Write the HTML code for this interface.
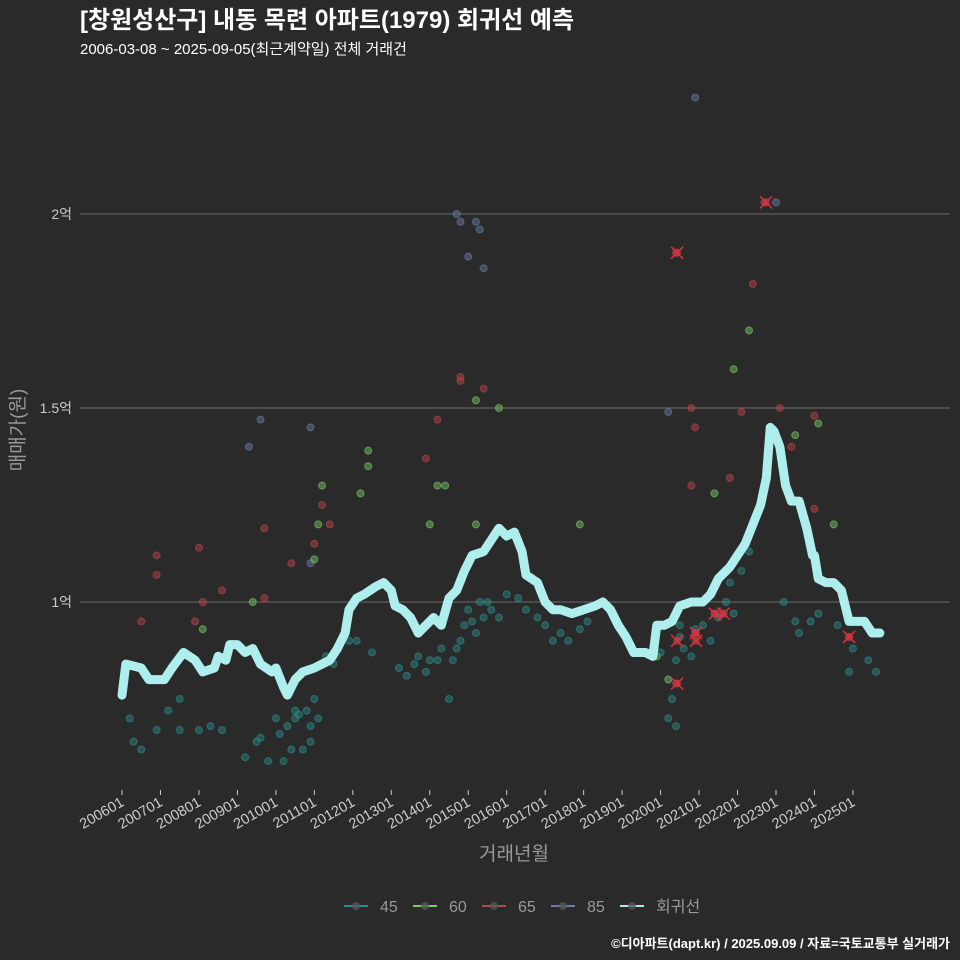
<!DOCTYPE html>
<html><head><meta charset="utf-8">
<style>
html,body{margin:0;padding:0;background:#2b2a2b;overflow:hidden;width:960px;height:960px;}
svg{display:block;}
svg text{font-family:"Liberation Sans","Noto Sans CJK KR",sans-serif;}
</style></head>
<body>
<svg id="c" width="960" height="960" viewBox="0 0 960 960" xmlns="http://www.w3.org/2000/svg">
<rect width="960" height="960" fill="#2b2a2b"/>
<text x="80" y="28" font-size="24" font-weight="bold" fill="#ffffff">[창원성산구] 내동 목련 아파트(1979) 회귀선 예측</text>
<text x="80" y="54" font-size="15" fill="#ffffff">2006-03-08 ~ 2025-09-05(최근계약일) 전체 거래건</text>
<g id="grid"></g>
<g id="pts"></g>
<g id="reg"></g>
<g id="xmarks"></g>
<g id="xaxis"></g>
<text x="514" y="860" font-size="19" fill="#999" text-anchor="middle">거래년월</text>
<text transform="translate(24,430) rotate(-90)" font-size="19" fill="#999" text-anchor="middle">매매가(원)</text>
<g id="legend"></g>
<text x="950" y="948" font-size="13" font-weight="bold" fill="#ffffff" text-anchor="end">©디아파트(dapt.kr) / 2025.09.09 / 자료=국토교통부 실거래가</text>
</svg>
<script>
const yTicks=[1,1.5,2];
const yTickLabels=["1억","1.5억","2억"];
const xTickYears=[2006,2007,2008,2009,2010,2011,2012,2013,2014,2015,2016,2017,2018,2019,2020,2021,2022,2023,2024,2025];
const xTickLabels=["200601","200701","200801","200901","201001","201101","201201","201301","201401","201501","201601","201701","201801","201901","202001","202101","202201","202301","202401","202501"];
const regT=[2006.0,2006.1,2006.5,2006.7,2007.1,2007.3,2007.6,2007.9,2008.1,2008.4,2008.5,2008.7,2008.8,2009.0,2009.2,2009.4,2009.6,2009.9,2010.0,2010.2,2010.3,2010.5,2010.7,2011.0,2011.2,2011.4,2011.6,2011.8,2011.9,2012.1,2012.3,2012.6,2012.8,2013.0,2013.1,2013.3,2013.5,2013.7,2013.9,2014.1,2014.3,2014.5,2014.7,2014.9,2015.1,2015.4,2015.6,2015.8,2016.0,2016.2,2016.4,2016.5,2016.8,2017.0,2017.2,2017.4,2017.7,2018.0,2018.3,2018.5,2018.7,2018.9,2019.1,2019.3,2019.6,2019.8,2019.9,2020.1,2020.3,2020.5,2020.8,2021.1,2021.3,2021.5,2021.8,2022.0,2022.2,2022.4,2022.6,2022.75,2022.85,2022.95,2023.1,2023.25,2023.4,2023.6,2023.8,2023.95,2024.0,2024.1,2024.3,2024.5,2024.7,2024.9,2025.1,2025.3,2025.5,2025.7];
const regV=[0.76,0.84,0.83,0.80,0.80,0.83,0.87,0.85,0.82,0.83,0.86,0.85,0.89,0.89,0.87,0.88,0.84,0.82,0.83,0.78,0.76,0.80,0.82,0.83,0.84,0.85,0.88,0.92,0.98,1.01,1.02,1.04,1.05,1.03,0.99,0.98,0.96,0.92,0.94,0.96,0.94,1.01,1.03,1.08,1.12,1.13,1.16,1.19,1.17,1.18,1.13,1.07,1.05,1.00,0.98,0.98,0.97,0.98,0.99,1.00,0.98,0.94,0.91,0.87,0.87,0.86,0.94,0.94,0.95,0.99,1.00,1.00,1.02,1.06,1.09,1.12,1.15,1.20,1.25,1.32,1.45,1.44,1.40,1.30,1.26,1.26,1.19,1.12,1.12,1.06,1.05,1.05,1.03,0.95,0.95,0.95,0.92,0.92];
const s45T=[2006.2,2006.3,2006.5,2006.9,2007.2,2007.5,2007.5,2008.0,2008.3,2008.6,2009.2,2009.5,2009.6,2009.8,2010.0,2010.1,2010.2,2010.3,2010.4,2010.5,2010.5,2010.6,2010.7,2010.8,2010.9,2010.9,2011.0,2011.1,2011.3,2011.5,2011.9,2012.1,2012.5,2013.2,2013.4,2013.6,2013.7,2013.9,2014.0,2014.2,2014.3,2014.5,2014.6,2014.7,2014.8,2014.9,2015.0,2015.1,2015.2,2015.3,2015.4,2015.5,2015.6,2015.8,2016.0,2016.3,2016.5,2016.8,2017.0,2017.2,2017.4,2017.6,2017.9,2018.1,2019.5,2019.8,2020.0,2020.2,2020.3,2020.4,2020.4,2020.5,2020.5,2020.6,2020.8,2020.9,2021.1,2021.3,2021.5,2021.7,2021.8,2021.9,2022.1,2022.3,2023.2,2023.5,2023.6,2023.9,2024.1,2024.6,2024.9,2025.0,2025.4,2025.6];
const s45V=[0.70,0.64,0.62,0.67,0.72,0.67,0.75,0.67,0.68,0.67,0.60,0.64,0.65,0.59,0.70,0.66,0.59,0.68,0.62,0.72,0.70,0.71,0.62,0.72,0.68,0.64,0.75,0.70,0.86,0.84,0.90,0.90,0.87,0.83,0.81,0.84,0.86,0.82,0.85,0.85,0.88,0.75,0.85,0.88,0.90,0.94,0.98,0.95,0.92,1.00,0.96,1.00,0.98,0.96,1.02,1.01,0.98,0.96,0.94,0.90,0.92,0.90,0.93,0.95,0.87,0.86,0.87,0.70,0.75,0.85,0.68,0.91,0.94,0.88,0.86,0.93,0.94,0.90,0.96,1.00,1.05,0.97,1.08,1.13,1.00,0.95,0.92,0.95,0.97,0.94,0.82,0.88,0.85,0.82];
const s60T=[2009.4,2008.1,2011.2,2011.1,2011.0,2012.2,2012.4,2012.4,2014.0,2014.2,2014.4,2015.2,2015.8,2017.9,2021.9,2022.3,2021.4,2023.5,2024.1,2024.5,2019.9,2020.2,2015.2];
const s60V=[1.00,0.93,1.30,1.20,1.11,1.28,1.39,1.35,1.20,1.30,1.30,1.52,1.50,1.20,1.60,1.70,1.28,1.43,1.46,1.20,0.86,0.80,1.20];
const s65T=[2006.5,2006.9,2006.9,2008.0,2008.1,2007.9,2008.6,2009.7,2009.7,2010.4,2011.2,2011.4,2011.0,2013.9,2014.2,2014.8,2014.8,2015.4,2020.4,2020.8,2020.9,2020.8,2022.1,2022.4,2022.7,2023.1,2023.4,2024.0,2024.0,2021.8,2024.9,2020.4,2020.9,2021.4,2021.6];
const s65V=[0.95,1.12,1.07,1.14,1.00,0.95,1.03,1.19,1.01,1.10,1.25,1.20,1.15,1.37,1.47,1.58,1.57,1.55,1.90,1.50,1.45,1.30,1.49,1.82,2.03,1.50,1.40,1.48,1.24,1.32,0.91,0.79,0.92,0.97,0.97];
const s85T=[2009.3,2009.6,2010.9,2014.7,2014.8,2015.0,2015.2,2015.3,2015.4,2020.2,2020.9,2023.0,2010.9];
const s85V=[1.40,1.47,1.45,2.00,1.98,1.89,1.98,1.96,1.86,1.49,2.30,2.03,1.10];
const markT=[2020.43,2022.74,2024.9,2020.43,2020.92,2020.92,2021.41,2021.64,2020.43];
const markV=[1.90,2.03,0.91,0.79,0.92,0.90,0.97,0.97,0.90];

const NS="http://www.w3.org/2000/svg";
const X=t=>122+(t-2006)*38.47;
const Y=v=>602-(v-1)*388;
function mk(tag,attrs,parent){const e=document.createElementNS(NS,tag);for(const k in attrs)e.setAttribute(k,attrs[k]);parent.appendChild(e);return e;}
const grid=document.getElementById('grid');
yTicks.forEach((v,i)=>{
  const l=mk('line',{x1:80,x2:950,y1:Y(v),y2:Y(v),stroke:'#6a6a6a','stroke-width':1},grid);
  
  
  const t=mk('text',{x:72,y:Y(v)+5,'font-size':14,fill:'#ccc','text-anchor':'end'},grid);
  t.textContent=yTickLabels[i];
  
  
});
const xa=document.getElementById('xaxis');
xTickYears.forEach((yr,i)=>{
  const x=X(yr);
  const tk=mk('line',{x1:x,x2:x,y1:790,y2:795,stroke:'#ccc'},xa);
  
  
  const t=mk('text',{transform:`translate(${x+3},${805}) rotate(-30)`,'font-size':14.5,fill:'#ccc','text-anchor':'end'},xa);
  t.textContent=xTickLabels[i];
  
  
});
const pts=document.getElementById('pts');
function series(T,V,col,name){T.forEach((t,i)=>{
  const c=mk('circle',{cx:X(t),cy:Y(V[i]),r:3.5,fill:col,'fill-opacity':0.45,stroke:col,'stroke-opacity':0.6},pts);
  
  
});}
series(s85T,s85V,'#6a7fa8','point-85');
series(s65T,s65V,'#c0454a','point-65');
series(s60T,s60V,'#7acc66','point-60');
series(s45T,s45V,'#2a8f8c','point-45');
const reg=document.getElementById('reg');
const p=mk('polyline',{points:regT.map((t,i)=>X(t)+','+Y(regV[i])).join(' '),fill:'none',stroke:'#aeeeed','stroke-width':9,'stroke-linejoin':'round','stroke-linecap':'round'},reg);


const xm=document.getElementById('xmarks');
markT.forEach((t,i)=>{
  const x=X(t),y=Y(markV[i]);
  const g=mk('g',{},xm);
  
  
  mk('circle',{cx:x,cy:y,r:4,fill:'#c0454a','fill-opacity':0.6},g);
  mk('path',{d:`M${x-6},${y-6}L${x+6},${y+6}M${x-6},${y+6}L${x+6},${y-6}`,stroke:'#e0303a','stroke-width':1.5},g);
});
const legendItems=[["45","#2a8f8c"],["60","#7acc66"],["65","#c0454a"],["85","#6a7fa8"],["회귀선","#aeeeed"]];
const legendX=[344,413,482,551,620];
const lg=document.getElementById('legend');
legendItems.forEach((it,i)=>{
  const x=legendX[i];
  const g=mk('g',{},lg);
  
  
  mk('line',{x1:x,x2:x+24,y1:906,y2:906,stroke:it[1],'stroke-width':2},g);
  mk('circle',{cx:x+12,cy:906,r:4,fill:'#555','fill-opacity':0.8},g);
  const t=mk('text',{x:x+36,y:912,'font-size':16,fill:'#999'},g);
  t.textContent=it[0];
});
</script>
</body></html>
